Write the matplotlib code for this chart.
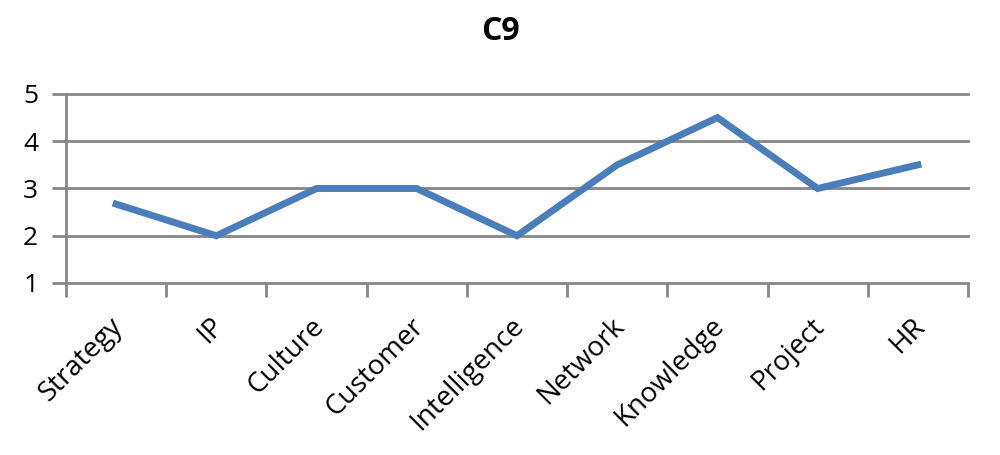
import matplotlib
matplotlib.use('Agg')
from matplotlib import pyplot as plt
from matplotlib import transforms

categories = ['Strategy', 'IP', 'Culture', 'Customer', 'Intelligence',
              'Network', 'Knowledge', 'Project', 'HR']
values = [2.67, 2, 3, 3, 2, 3.5, 4.5, 3, 3.5]
yticks = [1, 2, 3, 4, 5]

plt.rcParams['font.family'] = ['Open Sans', 'DejaVu Sans']
grid_color = '#868686'

fig = plt.figure(figsize=(10, 4.55), dpi=100)
ax = fig.add_axes([0.066, 1 - 283/455, 0.902, (283 - 94)/455])

x = list(range(len(categories)))
ax.plot(x, values, color='#4a7ebb', linewidth=5, solid_joinstyle='miter', zorder=3)

ax.set_xlim(-0.5, len(categories) - 0.5)
ax.set_ylim(1, 5)
ax.set_yticks(yticks)
ax.set_yticklabels([str(t) for t in yticks], fontsize=19)
for t in yticks:
    ax.axhline(t, color=grid_color, linewidth=2, zorder=1, clip_on=False)

# category ticks sit between the categories
ax.set_xticks([i - 0.5 for i in range(len(categories) + 1)])
ax.set_xticklabels([])
ax.set_xticks(x, minor=True)
ax.set_xticklabels(categories, minor=True, rotation=45, ha='right',
                   rotation_mode='anchor', fontsize=20)
ax.tick_params(axis='x', which='minor', length=0, pad=21)
ax.tick_params(axis='x', which='major', length=10, width=2, color=grid_color)
ax.tick_params(axis='y', length=10, width=2, color=grid_color, pad=10)

shift = transforms.ScaledTranslation(-7/100, 0, fig.dpi_scale_trans)
for lbl in ax.get_xticklabels(minor=True):
    lbl.set_transform(lbl.get_transform() + shift)

for s in ['top', 'right', 'bottom']:
    ax.spines[s].set_visible(False)
ax.spines['left'].set_color(grid_color)
ax.spines['left'].set_linewidth(2)

fig.text(0.5, 1 - 31/455, 'C9', ha='center', va='center', fontsize=23, fontweight='bold')

fig.savefig('out.png', dpi=100)
